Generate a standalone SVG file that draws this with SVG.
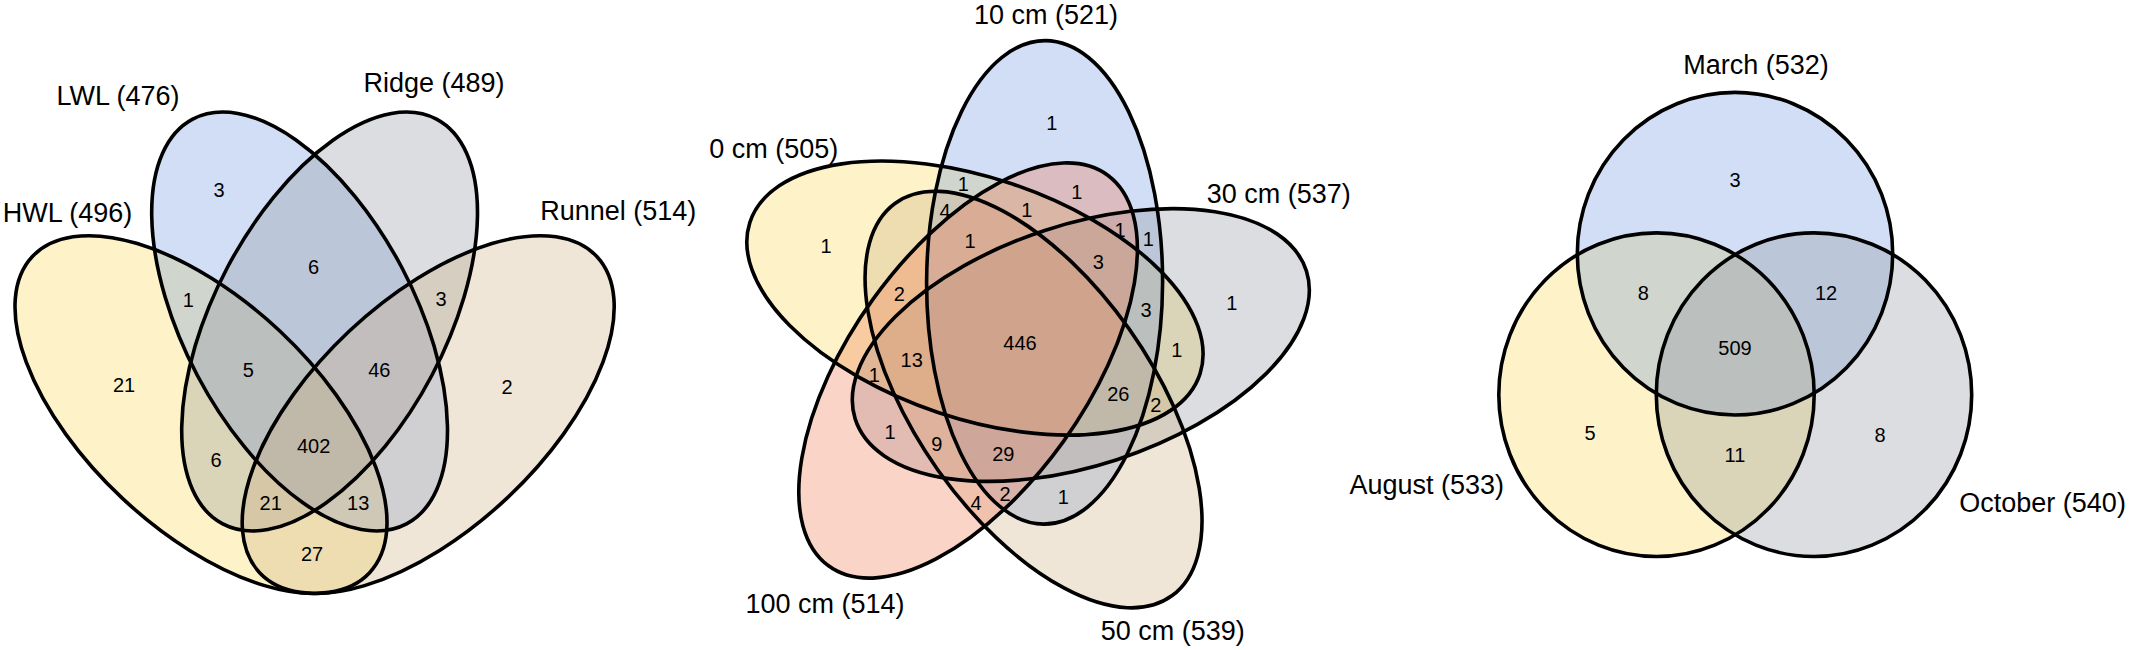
<svg xmlns="http://www.w3.org/2000/svg" xmlns:xlink="http://www.w3.org/1999/xlink" width="2132" height="650" viewBox="0 0 2132 650">
<style>
  text { font-family: "Liberation Sans", Arial, Helvetica, sans-serif; fill: #000; text-anchor: middle; }
  .lbl { font-size: 27px; }
  .num { font-size: 20px; }
  .line { fill: none; stroke: #000; stroke-width: 3.6; }
  .fy { fill: #F8D448; fill-opacity: 0.3; stroke: none; }
  .fb { fill: #6991DE; fill-opacity: 0.3; stroke: none; }
  .fg { fill: #8A8E98; fill-opacity: 0.3; stroke: none; }
  .fe { fill: #CDAC7D; fill-opacity: 0.3; stroke: none; }
  .fp { fill: #F27048; fill-opacity: 0.3; stroke: none; }
</style>
<defs>
  <!-- four-set diagram -->
  <ellipse id="e-hwl" cx="201" cy="414.6" rx="231.1" ry="114.85" transform="rotate(43.15 201 414.6)"/>
  <ellipse id="e-lwl" cx="299.6" cy="321.5" rx="228.9" ry="115.6" transform="rotate(62.16 299.6 321.5)"/>
  <ellipse id="e-ridge" cx="329.6" cy="321.5" rx="228.9" ry="115.6" transform="rotate(-62.16 329.6 321.5)"/>
  <ellipse id="e-runnel" cx="428.2" cy="414.6" rx="231.1" ry="114.85" transform="rotate(-43.15 428.2 414.6)"/>
  <!-- five-set diagram (local coordinates around the centre) -->
  <ellipse id="e-0" cx="-45.46" cy="-40.22" rx="237" ry="118" transform="rotate(18.2 -45.46 -40.22)"/>
  <ellipse id="e-10" cx="24.2" cy="-55.67" rx="237" ry="118" transform="rotate(90.2 24.2 -55.67)"/>
  <ellipse id="e-30" cx="60.42" cy="5.82" rx="237" ry="118" transform="rotate(162.2 60.42 5.82)"/>
  <ellipse id="e-50" cx="13.14" cy="59.26" rx="237" ry="118" transform="rotate(54.2 13.14 59.26)"/>
  <ellipse id="e-100" cx="-52.3" cy="30.81" rx="237" ry="118" transform="rotate(126.2 -52.3 30.81)"/>
  <!-- three-set diagram -->
  <ellipse id="e-aug" cx="1656.5" cy="394.7" rx="157.7" ry="161.8"/>
  <ellipse id="e-mar" cx="1735" cy="253.7" rx="157.7" ry="161.3"/>
  <ellipse id="e-oct" cx="1814" cy="394.7" rx="157.7" ry="161.8"/>
</defs>

<!-- ===== Four-set diagram ===== -->
<g id="venn-four">
  <g id="set-hwl"><use xlink:href="#e-hwl" href="#e-hwl" class="fy"/><text class="lbl" x="67.5" y="221.5">HWL (496)</text></g>
  <g id="set-lwl"><use xlink:href="#e-lwl" href="#e-lwl" class="fb"/><text class="lbl" x="118" y="105">LWL (476)</text></g>
  <g id="set-ridge"><use xlink:href="#e-ridge" href="#e-ridge" class="fg"/><text class="lbl" x="434" y="92">Ridge (489)</text></g>
  <g id="set-runnel"><use xlink:href="#e-runnel" href="#e-runnel" class="fe"/><text class="lbl" x="618.3" y="220">Runnel (514)</text></g>
  <g id="outlines-four">
    <use xlink:href="#e-hwl" href="#e-hwl" class="line"/>
    <use xlink:href="#e-lwl" href="#e-lwl" class="line"/>
    <use xlink:href="#e-ridge" href="#e-ridge" class="line"/>
    <use xlink:href="#e-runnel" href="#e-runnel" class="line"/>
  </g>
  <g id="counts-four">
    <text class="num" x="219" y="197">3</text>
    <text class="num" x="313.5" y="274">6</text>
    <text class="num" x="188.3" y="307">1</text>
    <text class="num" x="441" y="305.5">3</text>
    <text class="num" x="248.3" y="376.5">5</text>
    <text class="num" x="379.3" y="377">46</text>
    <text class="num" x="124" y="392">21</text>
    <text class="num" x="507" y="393.5">2</text>
    <text class="num" x="313.6" y="453">402</text>
    <text class="num" x="216" y="466.5">6</text>
    <text class="num" x="270.7" y="510">21</text>
    <text class="num" x="358.2" y="509.5">13</text>
    <text class="num" x="312" y="560.5">27</text>
  </g>
</g>

<!-- ===== Five-set diagram ===== -->
<g id="venn-five">
  <g transform="translate(1020.4 339.1) scale(1 1.02)">
    <g id="set-0cm"><use xlink:href="#e-0" href="#e-0" class="fy"/></g>
    <g id="set-10cm"><use xlink:href="#e-10" href="#e-10" class="fb"/></g>
    <g id="set-30cm"><use xlink:href="#e-30" href="#e-30" class="fg"/></g>
    <g id="set-50cm"><use xlink:href="#e-50" href="#e-50" class="fe"/></g>
    <g id="set-100cm"><use xlink:href="#e-100" href="#e-100" class="fp"/></g>
    <g id="outlines-five">
      <use xlink:href="#e-0" href="#e-0" class="line"/>
      <use xlink:href="#e-10" href="#e-10" class="line"/>
      <use xlink:href="#e-30" href="#e-30" class="line"/>
      <use xlink:href="#e-50" href="#e-50" class="line"/>
      <use xlink:href="#e-100" href="#e-100" class="line"/>
    </g>
  </g>
  <g id="labels-five">
    <text class="lbl" x="773.8" y="158">0 cm (505)</text>
    <text class="lbl" x="1046" y="23.5">10 cm (521)</text>
    <text class="lbl" x="1278.7" y="202.5">30 cm (537)</text>
    <text class="lbl" x="1172.7" y="640">50 cm (539)</text>
    <text class="lbl" x="825" y="613">100 cm (514)</text>
  </g>
  <g id="counts-five">
    <text class="num" x="1051.7" y="130">1</text>
    <text class="num" x="963.3" y="191">1</text>
    <text class="num" x="1076.7" y="199">1</text>
    <text class="num" x="945" y="218">4</text>
    <text class="num" x="1026.7" y="217">1</text>
    <text class="num" x="1120" y="236.5">1</text>
    <text class="num" x="1148.3" y="245.5">1</text>
    <text class="num" x="970" y="248">1</text>
    <text class="num" x="826" y="253">1</text>
    <text class="num" x="1098.3" y="269">3</text>
    <text class="num" x="899.3" y="301">2</text>
    <text class="num" x="1146" y="317">3</text>
    <text class="num" x="1231.7" y="310">1</text>
    <text class="num" x="1020" y="350">446</text>
    <text class="num" x="911.7" y="366.5">13</text>
    <text class="num" x="1176.7" y="357">1</text>
    <text class="num" x="874.3" y="382">1</text>
    <text class="num" x="1118.3" y="400.5">26</text>
    <text class="num" x="1155.7" y="412">2</text>
    <text class="num" x="890" y="439">1</text>
    <text class="num" x="936.7" y="451">9</text>
    <text class="num" x="1003.3" y="460.5">29</text>
    <text class="num" x="1005" y="500.5">2</text>
    <text class="num" x="976" y="510">4</text>
    <text class="num" x="1063.3" y="504">1</text>
  </g>
</g>

<!-- ===== Three-set diagram ===== -->
<g id="venn-three">
  <g id="set-august"><use xlink:href="#e-aug" href="#e-aug" class="fy"/><text class="lbl" x="1426.7" y="494">August (533)</text></g>
  <g id="set-march"><use xlink:href="#e-mar" href="#e-mar" class="fb"/><text class="lbl" x="1756" y="74">March (532)</text></g>
  <g id="set-october"><use xlink:href="#e-oct" href="#e-oct" class="fg"/><text class="lbl" x="2042.6" y="512">October (540)</text></g>
  <g id="outlines-three">
    <use xlink:href="#e-aug" href="#e-aug" class="line"/>
    <use xlink:href="#e-mar" href="#e-mar" class="line"/>
    <use xlink:href="#e-oct" href="#e-oct" class="line"/>
  </g>
  <g id="counts-three">
    <text class="num" x="1735" y="187">3</text>
    <text class="num" x="1643.3" y="299.5">8</text>
    <text class="num" x="1826" y="299.5">12</text>
    <text class="num" x="1735" y="354.5">509</text>
    <text class="num" x="1590" y="440">5</text>
    <text class="num" x="1735" y="461.5">11</text>
    <text class="num" x="1880" y="442">8</text>
  </g>
</g>
</svg>
